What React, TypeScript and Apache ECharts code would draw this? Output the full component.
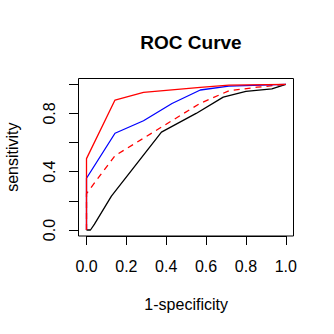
import React, { useEffect, useRef } from "react";
import * as echarts from "echarts";

const xTicks = [0, 0.2, 0.4, 0.6, 0.8, 1.0];
const yTickLabels = [0, 0.4, 0.8];

const blackFpr = [0, 0.02, 0.04, 0.125, 0.376, 0.55, 0.686, 0.8, 0.93, 1];
const blackTpr = [0, 0, 0.04, 0.233, 0.672, 0.8, 0.912, 0.952, 0.968, 1];

const dashFpr = [0, 0, 0.143, 0.571, 0.714, 0.857, 1];
const dashTpr = [0, 0.25, 0.51, 0.87, 0.955, 0.98, 1];

const blueFpr = [0, 0, 0.143, 0.286, 0.429, 0.571, 0.714, 1];
const blueTpr = [0, 0.355, 0.664, 0.75, 0.868, 0.961, 0.988, 1];

const redFpr = [0, 0, 0.143, 0.286, 0.571, 0.714, 1];
const redTpr = [0, 0.49, 0.892, 0.945, 0.979, 0.995, 1];

const pairs = (xs: number[], ys: number[]) => xs.map((x, i) => [x, ys[i]]);

const FONT = "'Liberation Sans', Arial, Helvetica, sans-serif";

export default function App() {
  const ref = useRef<HTMLDivElement>(null);
  useEffect(() => {
    if (!ref.current) return;
    const chart = echarts.init(ref.current, undefined, { renderer: "svg" });
    const line = (data: number[][], color: string, dashed = false) => ({
      type: "line",
      data,
      xAxisIndex: 0,
      yAxisIndex: 0,
      showSymbol: false,
      symbol: "none",
      clip: false,
      lineStyle: { color, width: 1.3, type: dashed ? [6, 5] : "solid" },
      silent: true,
    });
    chart.setOption({
      animation: false,
      backgroundColor: "#ffffff",
      title: {
        text: "ROC Curve",
        left: 186,
        textAlign: "center",
        top: 28,
        textStyle: { fontFamily: FONT, fontSize: 19, fontWeight: "bold", color: "#000" },
      },
      grid: [
        {
          left: 86.5,
          right: 48.2,
          top: 84.3,
          bottom: 104,
          containLabel: false,
          outerBoundsMode: "none",
        },
        {
          left: 78.5,
          right: 40.5,
          top: 78.5,
          bottom: 98,
          show: true,
          borderColor: "#000",
          borderWidth: 1,
          backgroundColor: "transparent",
          containLabel: false,
          outerBoundsMode: "none",
        },
      ],
      xAxis: [
        {
          type: "value",
          gridIndex: 0,
          min: 0,
          max: 1,
          interval: 0.2,
          offset: 6,
          name: "1-specificity",
          nameLocation: "middle",
          nameGap: 60,
          nameTextStyle: { fontFamily: FONT, fontSize: 16, color: "#000" },
          axisLine: { show: true, onZero: false, lineStyle: { color: "#000", width: 1 } },
          axisTick: { show: true, length: 9, lineStyle: { color: "#000" } },
          axisLabel: {
            fontFamily: FONT,
            fontSize: 16,
            color: "#000",
            margin: 22,
            formatter: (v: number) => (xTicks.some((t) => Math.abs(t - v) < 1e-9) ? v.toFixed(1) : ""),
          },
          splitLine: { show: false },
        },
        { type: "value", gridIndex: 1, min: 0, max: 1, show: false },
      ],
      yAxis: [
        {
          type: "value",
          gridIndex: 0,
          min: 0,
          max: 1,
          interval: 0.2,
          offset: 8.5,
          name: "sensitivity",
          nameLocation: "middle",
          nameGap: 58,
          nameRotate: 90,
          nameTextStyle: { fontFamily: FONT, fontSize: 16, color: "#000" },
          axisLine: { show: true, onZero: false, lineStyle: { color: "#000", width: 1 } },
          axisTick: { show: true, length: 9, lineStyle: { color: "#000" } },
          axisLabel: {
            fontFamily: FONT,
            fontSize: 16,
            color: "#000",
            rotate: 90,
            margin: 21,
            formatter: (v: number) => (yTickLabels.some((t) => Math.abs(t - v) < 1e-9) ? v.toFixed(1) : ""),
          },
          splitLine: { show: false },
        },
        { type: "value", gridIndex: 1, min: 0, max: 1, show: false },
      ],
      series: [
        line(pairs(blackFpr, blackTpr), "#000000"),
        line(pairs(dashFpr, dashTpr), "#ff0000", true),
        line(pairs(blueFpr, blueTpr), "#0000ff"),
        line(pairs(redFpr, redTpr), "#ff0000"),
      ],
    });
    return () => chart.dispose();
  }, []);
  return (
    <div
      ref={ref}
      style={{ position: "absolute", left: 0, top: 0, width: 334, height: 334, background: "#fff" }}
    />
  );
}
